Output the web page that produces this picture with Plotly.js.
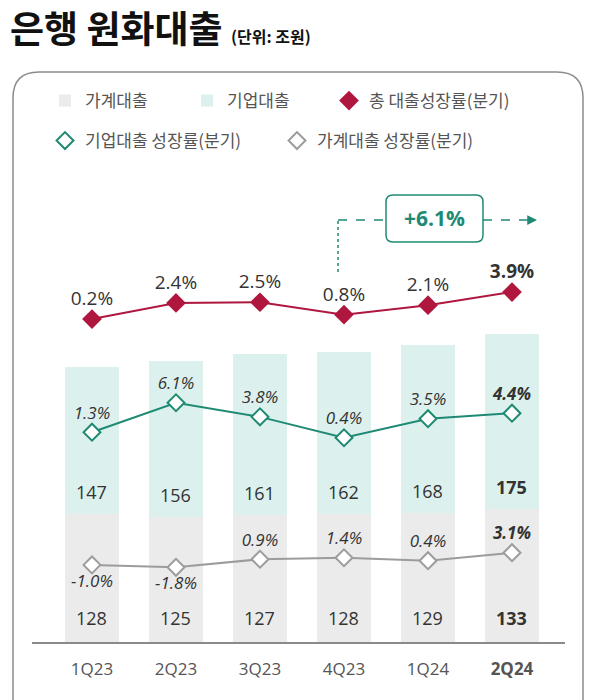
<!DOCTYPE html>
<html>
<head>
<meta charset="utf-8">
<script src="https://cdn.plot.ly/plotly-3.0.1.min.js"></script>
<style>
  body { margin: 0; background: #fff; }
  #chart { width: 598px; height: 700px; }
</style>
</head>
<body>
<div id="chart"></div>
<script>
// values (조원, %)
var quarters = ['1Q23', '2Q23', '3Q23', '4Q23', '1Q24', '2Q24'];
var householdLoans = [128, 125, 127, 128, 129, 133];
var corporateLoans = [147, 156, 161, 162, 168, 175];
var totalGrowth = [0.2, 2.4, 2.5, 0.8, 2.1, 3.9];
var corporateGrowth = [1.3, 6.1, 3.8, 0.4, 3.5, 4.4];
var householdGrowth = [-1.0, -1.8, 0.9, 1.4, 0.4, 3.1];
var corporateGrowthSince4Q23 = 6.1;

var KR = '"Noto Sans CJK KR", "Open Sans", sans-serif';
var NUM = '"Open Sans", "Noto Sans CJK KR", sans-serif';

var RED = '#b0173f';
var TEAL = '#1f8a74';
var GREY_LINE = '#9c9c9c';
var last = quarters.length - 1;

// plot area in px, for placing decorations
var L = 32, R = 565, T = 72, B = 642;
function px(x) { return (x - L) / (R - L); }
function py(y) { return (B - y) / (B - T); }

function pct(v, i, boldLast) {
    var s = v.toFixed(1) + '%';
    return (boldLast && i === last) ? '<b>' + s + '</b>' : s;
}

var traces = [];

traces.push({
    type: 'bar', name: '가계대출', x: quarters, y: householdLoans,
    marker: { color: '#ebebeb' }, hoverinfo: 'skip', legend: 'legend'
});
traces.push({
    type: 'bar', name: '기업대출', x: quarters, y: corporateLoans,
    marker: { color: '#dcf1ed' }, hoverinfo: 'skip', legend: 'legend'
});

// lines (no legend) + markers with labels (legend)
function addSeries(vals, yaxis, name, legend, lineColor, markerFill, markerLine, textSize, italic, positions, lw) {
    traces.push({
        type: 'scatter', mode: 'lines', x: quarters, y: vals, yaxis: yaxis,
        line: { color: lineColor, width: 2 }, showlegend: false, hoverinfo: 'skip'
    });
    traces.push({
        type: 'scatter', mode: 'markers+text', name: name, legend: legend, legendwidth: lw,
        x: quarters, y: vals, yaxis: yaxis,
        marker: { symbol: 'diamond', size: 13, color: markerFill, line: { color: markerLine, width: 2 } },
        text: vals.map(function (v, i) { return pct(v, i, true); }),
        textposition: positions,
        textfont: { family: NUM, size: textSize, color: '#333', style: italic ? 'italic' : 'normal' },
        cliponaxis: false, hoverinfo: 'skip'
    });
}

addSeries(totalGrowth, 'y2', '총 대출성장률(분기)', 'legend', RED, RED, RED, 19, false, 'top center', 175);
addSeries(corporateGrowth, 'y3', '기업대출 성장률(분기)', 'legend2', TEAL, '#fff', TEAL, 17, true, 'top center', 187);
addSeries(householdGrowth, 'y4', '가계대출 성장률(분기)', 'legend2', GREY_LINE, '#fff', GREY_LINE, 17, true,
    householdGrowth.map(function (v) { return v < 0 ? 'bottom center' : 'top center'; }), 187);

// bar value labels
var annotations = [];
for (var i = 0; i < quarters.length; i++) {
    var b = i === last;
    annotations.push({
        x: quarters[i], y: 0, xref: 'x', yref: 'y', yshift: 24, showarrow: false,
        text: b ? '<b>' + householdLoans[i] + '</b>' : String(householdLoans[i]),
        font: { family: NUM, size: 18, color: '#333' }
    });
    annotations.push({
        x: quarters[i], y: householdLoans[i], xref: 'x', yref: 'y', yshift: 22, showarrow: false,
        text: b ? '<b>' + corporateLoans[i] + '</b>' : String(corporateLoans[i]),
        font: { family: NUM, size: 18, color: '#333' }
    });
}

// callout
annotations.push({
    xref: 'paper', yref: 'paper', x: px(434.5), y: py(218), xanchor: 'center', yanchor: 'middle',
    showarrow: false,
    text: '<b>+' + corporateGrowthSince4Q23.toFixed(1) + '%</b>',
    font: { family: NUM, size: 21, color: TEAL }
});
annotations.push({
    xref: 'paper', yref: 'paper', x: px(537), y: py(220), text: '', showarrow: true,
    ax: -8, ay: 0, arrowhead: 2, arrowsize: 1.3, arrowwidth: 1.5, arrowcolor: TEAL
});

function roundRect(x1, y1, x2, y2, r) {
    return 'M' + px(x1 + r) + ',' + py(y1) +
        ' L' + px(x2 - r) + ',' + py(y1) + ' Q' + px(x2) + ',' + py(y1) + ' ' + px(x2) + ',' + py(y1 + r) +
        ' L' + px(x2) + ',' + py(y2 - r) + ' Q' + px(x2) + ',' + py(y2) + ' ' + px(x2 - r) + ',' + py(y2) +
        ' L' + px(x1 + r) + ',' + py(y2) + ' Q' + px(x1) + ',' + py(y2) + ' ' + px(x1) + ',' + py(y2 - r) +
        ' L' + px(x1) + ',' + py(y1 + r) + ' Q' + px(x1) + ',' + py(y1) + ' ' + px(x1 + r) + ',' + py(y1) + ' Z';
}

var boxR = 26;
var shapes = [
    // outer frame, open at the bottom
    {
        type: 'path', xref: 'paper', yref: 'paper', layer: 'below',
        path: 'M' + px(13) + ',' + py(720) + ' L' + px(13) + ',' + py(72 + boxR) +
            ' Q' + px(13) + ',' + py(72) + ' ' + px(13 + boxR) + ',' + py(72) +
            ' L' + px(583 - boxR) + ',' + py(72) +
            ' Q' + px(583) + ',' + py(72) + ' ' + px(583) + ',' + py(72 + boxR) +
            ' L' + px(583) + ',' + py(720),
        line: { color: '#8c8c8c', width: 1.5 }
    },
    { type: 'line', xref: 'paper', yref: 'paper', x0: px(338), x1: px(338), y0: py(272), y1: py(220),
      line: { color: TEAL, width: 1.5, dash: 'dot' } },
    { type: 'line', xref: 'paper', yref: 'paper', x0: px(338), x1: px(386), y0: py(220), y1: py(220),
      line: { color: TEAL, width: 1.5, dash: 'dash' } },
    { type: 'line', xref: 'paper', yref: 'paper', x0: px(483), x1: px(530), y0: py(220), y1: py(220),
      line: { color: TEAL, width: 1.5, dash: 'dash' } },
    { type: 'path', xref: 'paper', yref: 'paper', path: roundRect(386, 195, 483, 242, 7),
      fillcolor: '#fff', line: { color: TEAL, width: 1.5 } }
];

var hidden = { visible: false, overlaying: 'y', fixedrange: true };

var layout = {
    width: 598, height: 700,
    margin: { l: L, r: 598 - R, t: T, b: 700 - B, pad: 0 },
    paper_bgcolor: '#fff', plot_bgcolor: 'rgba(0,0,0,0)',
    font: { family: KR, color: '#555' },
    title: {
        text: '<b>은행 원화대출</b> <span style="font-size:16px"><b>(단위: 조원)</b></span>',
        font: { family: KR, size: 37, color: '#111' },
        x: 10 / 598, xref: 'container', xanchor: 'left',
        y: 1 - 30 / 700, yref: 'container', yanchor: 'middle'
    },
    barmode: 'stack',
    bargap: 0.36,
    xaxis: {
        type: 'category', range: [-0.714, 5.631], fixedrange: true,
        showline: true, linecolor: '#8a8a8a', linewidth: 1.5, ticks: '',
        tickvals: quarters,
        ticktext: quarters.map(function (q, i) { return i === last ? '<b>' + q + '</b>' : q; }),
        tickfont: { family: NUM, size: 17, color: '#555' }, ticklabelstandoff: 11,
        showgrid: false, zeroline: false
    },
    yaxis: { range: [0, B - T], visible: false, fixedrange: true },
    yaxis2: Object.assign({ range: [-44.04, 34.04] }, hidden),
    yaxis3: Object.assign({ range: [-32.87, 59.97] }, hidden),
    yaxis4: Object.assign({ range: [-26.87, 164.4] }, hidden),
    legend: {
        orientation: 'h', x: px(45), xanchor: 'left', y: py(101), yanchor: 'middle',
        traceorder: 'normal', entrywidth: 97, bgcolor: 'rgba(0,0,0,0)',
        font: { family: KR, size: 17, color: '#555' }
    },
    legend2: {
        orientation: 'h', x: px(45), xanchor: 'left', y: py(141), yanchor: 'middle',
        traceorder: 'normal', entrywidth: 187, bgcolor: 'rgba(0,0,0,0)',
        font: { family: KR, size: 17, color: '#555' }
    },
    annotations: annotations,
    shapes: shapes,
    showlegend: true
};

Plotly.newPlot('chart', traces, layout, { staticPlot: true, displayModeBar: false });
</script>
</body>
</html>
